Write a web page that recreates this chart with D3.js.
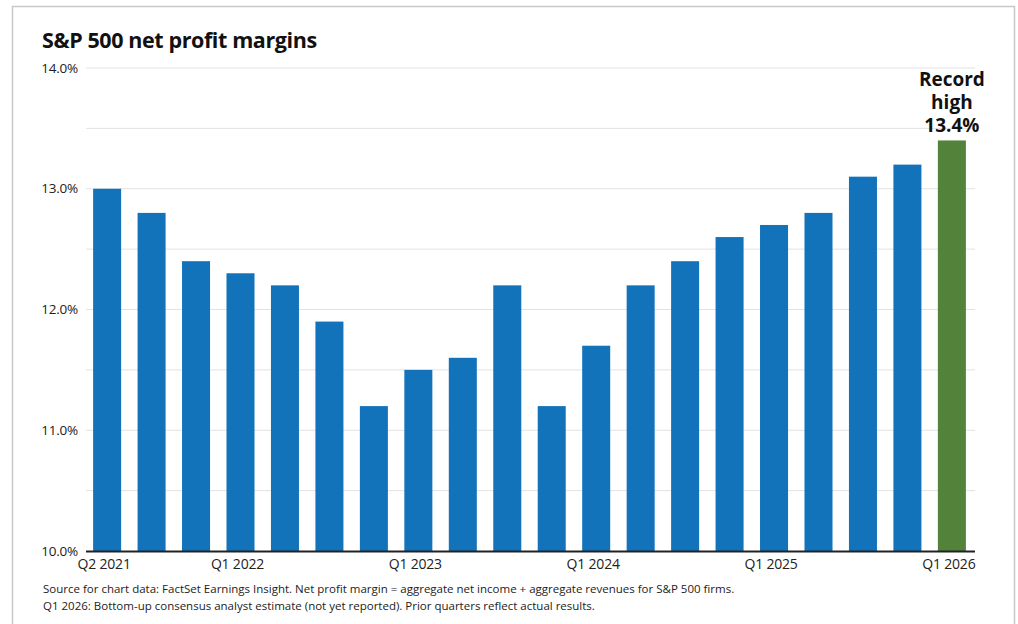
<!DOCTYPE html>
<html>
<head>
<meta charset="utf-8">
<script src="https://cdn.jsdelivr.net/npm/d3@7/dist/d3.min.js"></script>
<style>
  html, body { margin: 0; padding: 0; background: #fff; }
  svg { display: block; font-family: "Open Sans", "Noto Sans", sans-serif; }
</style>
</head>
<body>
<svg id="chart" width="1018" height="624"></svg>
<script>
// quarters and net profit margin (%)
const quarters = [
  "Q2 2021", "Q3 2021", "Q4 2021", "Q1 2022", "Q2 2022", "Q3 2022", "Q4 2022",
  "Q1 2023", "Q2 2023", "Q3 2023", "Q4 2023", "Q1 2024", "Q2 2024", "Q3 2024",
  "Q4 2024", "Q1 2025", "Q2 2025", "Q3 2025", "Q4 2025", "Q1 2026"
];
const margins = [
  13.0, 12.8, 12.4, 12.3, 12.2, 11.9, 11.2,
  11.5, 11.6, 12.2, 11.2, 11.7, 12.2, 12.4,
  12.6, 12.7, 12.8, 13.1, 13.2, 13.4
];
const xLabels = ["Q2 2021", "Q1 2022", "Q1 2023", "Q1 2024", "Q1 2025", "Q1 2026"];
const yTicks = [10, 11, 12, 13, 14];
const gridTicks = [10.5, 11, 11.5, 12, 12.5, 13, 13.5, 14];
const estimateQuarter = "Q1 2026";
const footnotes = [
  "Source for chart data: FactSet Earnings Insight. Net profit margin = aggregate net income + aggregate revenues for S&P 500 firms.",
  "Q1 2026: Bottom-up consensus analyst estimate (not yet reported). Prior quarters reflect actual results."
];
const annotation = ["Record", "high", "13.4%"];

const data = quarters.map((q, i) => ({ q, v: margins[i] }));

const svg = d3.select("#chart");

// frame
svg.append("rect")
  .attr("x", 12.5).attr("y", 6.5)
  .attr("width", 1002).attr("height", 640)
  .attr("fill", "none")
  .attr("stroke", "#c8c8c8")
  .attr("stroke-width", 1.5);

// title
svg.append("text")
  .attr("x", 42).attr("y", 48)
  .attr("font-size", 21.5)
  .attr("font-weight", 700)
  .attr("fill", "#111")
  .attr("letter-spacing", -0.4)
  .text("S&P 500 net profit margins");

const plotLeft = 86, plotRight = 975, plotTop = 68, plotBottom = 551;

const x = d3.scaleBand()
  .domain(quarters)
  .range([plotLeft, plotRight - 2])
  .paddingInner(0.37)
  .paddingOuter(0.16);

const y = d3.scaleLinear().domain([10, 14]).range([plotBottom, plotTop]);

// gridlines
svg.append("g")
  .selectAll("line")
  .data(gridTicks)
  .join("line")
  .attr("x1", plotLeft).attr("x2", plotRight)
  .attr("y1", d => y(d)).attr("y2", d => y(d))
  .attr("stroke", "#e2e2e2")
  .attr("stroke-width", 1);

// y tick labels
svg.append("g")
  .selectAll("text")
  .data(yTicks)
  .join("text")
  .attr("x", 78)
  .attr("y", d => y(d))
  .attr("dy", "0.35em")
  .attr("text-anchor", "end")
  .attr("font-size", 13.5)
  .attr("fill", "#222")
  .attr("letter-spacing", -0.2)
  .text(d => d.toFixed(1) + "%");

// bars
svg.append("g")
  .selectAll("rect")
  .data(data)
  .join("rect")
  .attr("x", d => x(d.q))
  .attr("width", x.bandwidth())
  .attr("y", d => y(d.v))
  .attr("height", d => y(10) - y(d.v))
  .attr("fill", d => d.q === estimateQuarter ? "#53823b" : "#1273bb");

// x axis
const xAxis = svg.append("g")
  .attr("transform", `translate(0,${plotBottom})`)
  .call(d3.axisBottom(x).tickValues(xLabels).tickSize(0).tickPadding(8));
xAxis.select(".domain")
  .attr("d", `M${plotLeft},0.5H${plotRight}`)
  .attr("stroke", "#222")
  .attr("stroke-width", 2);
xAxis.selectAll("text")
  .attr("font-family", "\"Open Sans\", \"Noto Sans\", sans-serif")
  .attr("font-size", 14)
  .attr("fill", "#222")
  .attr("letter-spacing", -0.2)
  .attr("dx", -3);

// annotation
const last = data[data.length - 1];
const annX = x(last.q) + x.bandwidth() / 2;
svg.append("text")
  .attr("text-anchor", "middle")
  .attr("font-size", 19)
  .attr("font-weight", 700)
  .attr("fill", "#111")
  .selectAll("tspan")
  .data(annotation)
  .join("tspan")
  .attr("x", annX)
  .attr("y", (d, i) => y(last.v) - 8 - (annotation.length - 1 - i) * 23)
  .text(d => d);

// footnotes
svg.append("g")
  .selectAll("text")
  .data(footnotes)
  .join("text")
  .attr("x", 43)
  .attr("y", (d, i) => 593 + i * 16.5)
  .attr("font-size", 11.5)
  .attr("fill", "#222")
  .text(d => d);
</script>
</body>
</html>
